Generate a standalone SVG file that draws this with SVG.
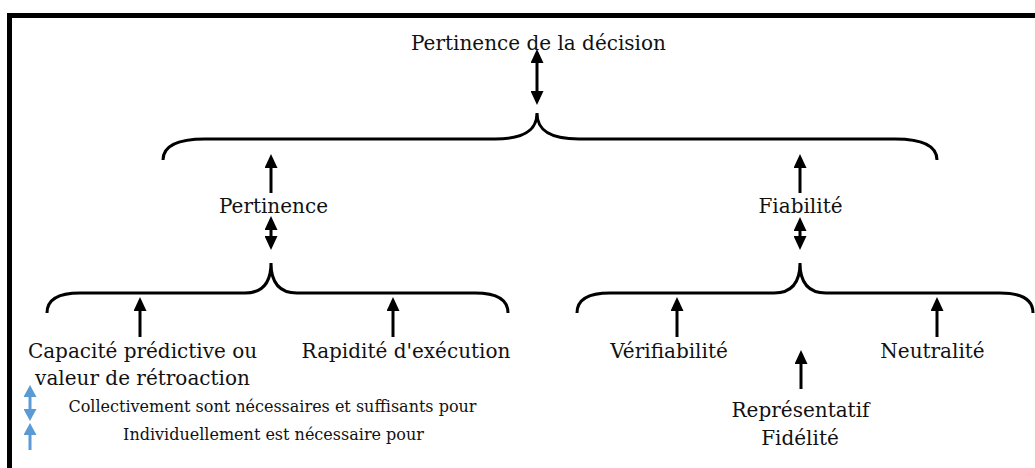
<svg xmlns="http://www.w3.org/2000/svg" width="1035" height="468" viewBox="0 0 1035 468">
<style>
text{font-family:"DejaVu Serif",serif;font-size:20px;fill:#111;text-anchor:middle}
.leg{font-size:16px}
.br{fill:none;stroke:#000;stroke-width:3}
.ar{stroke:#000;stroke-width:3;fill:none}
.bl{stroke:#5b9bd5;stroke-width:3;fill:none}
</style>
<defs>
<marker id="ah" viewBox="0 0 14 13" refX="0" refY="6.5" markerWidth="14" markerHeight="13" markerUnits="userSpaceOnUse" orient="auto-start-reverse"><path d="M0,0L14,6.5L0,13z" fill="#000"/></marker>
<marker id="ab" viewBox="0 0 12 13" refX="0" refY="6.5" markerWidth="12" markerHeight="13" markerUnits="userSpaceOnUse" orient="auto-start-reverse"><path d="M0,0L12,6.5L0,13z" fill="#5b9bd5"/></marker>
</defs>
<path d="M9.5,468V15.5H1035" fill="none" stroke="#000" stroke-width="5"/>
<g id="connectors">
<path class="br" d="M163,160C163,146 178,139 205,139L495,139C525,139 537,130 537,113C537,130 549,139 579,139L895,139C922,139 937,146 937,160"/>
<path class="br" d="M47,313C47,300 58,293 80,293L245,293C262,293 271,284 271,263C271,284 280,293 297,293L475,293C497,293 508,300 508,313"/>
<path class="br" d="M577,313C577,300 588,293 610,293L774,293C791,293 800,284 800,263C800,284 809,293 826,293L1000,293C1022,293 1033,300 1033,313"/>
<line class="ar" x1="537" y1="63" x2="537" y2="91" marker-start="url(#ah)" marker-end="url(#ah)"/>
<line class="ar" x1="271" y1="193" x2="271" y2="168" marker-end="url(#ah)"/>
<line class="ar" x1="800" y1="193" x2="800" y2="168" marker-end="url(#ah)"/>
<line class="ar" x1="271" y1="230" x2="271" y2="236" marker-start="url(#ah)" marker-end="url(#ah)"/>
<line class="ar" x1="800" y1="231" x2="800" y2="236" marker-start="url(#ah)" marker-end="url(#ah)"/>
<line class="ar" x1="140" y1="337" x2="140" y2="311" marker-end="url(#ah)"/>
<line class="ar" x1="393" y1="337" x2="393" y2="311" marker-end="url(#ah)"/>
<line class="ar" x1="677" y1="337" x2="677" y2="311" marker-end="url(#ah)"/>
<line class="ar" x1="937" y1="337" x2="937" y2="311" marker-end="url(#ah)"/>
<line class="ar" x1="801" y1="389" x2="801" y2="364" marker-end="url(#ah)"/>
<line class="bl" x1="30" y1="397" x2="30" y2="409" marker-start="url(#ab)" marker-end="url(#ab)"/>
<line class="bl" x1="30" y1="450" x2="30" y2="435" marker-end="url(#ab)"/>
</g>
<g id="n-decision"><text x="538.5" y="50">Pertinence de la décision</text></g>
<g id="n-pertinence"><text x="273.5" y="213">Pertinence</text></g>
<g id="n-fiabilite"><text x="800.5" y="213">Fiabilité</text></g>
<g id="n-capacite"><text x="142.5" y="358">Capacité prédictive ou</text><text x="142.5" y="385">valeur de rétroaction</text></g>
<g id="n-rapidite"><text x="406" y="358">Rapidité d'exécution</text></g>
<g id="n-verif"><text x="669" y="358">Vérifiabilité</text></g>
<g id="n-neutralite"><text x="932.5" y="358">Neutralité</text></g>
<g id="n-represent"><text x="800.5" y="417">Représentatif</text><text x="800" y="445">Fidélité</text></g>
<g id="legend"><text class="leg" x="272.5" y="412">Collectivement sont nécessaires et suffisants pour</text><text class="leg" x="273.5" y="440">Individuellement est nécessaire pour</text></g>
</svg>
